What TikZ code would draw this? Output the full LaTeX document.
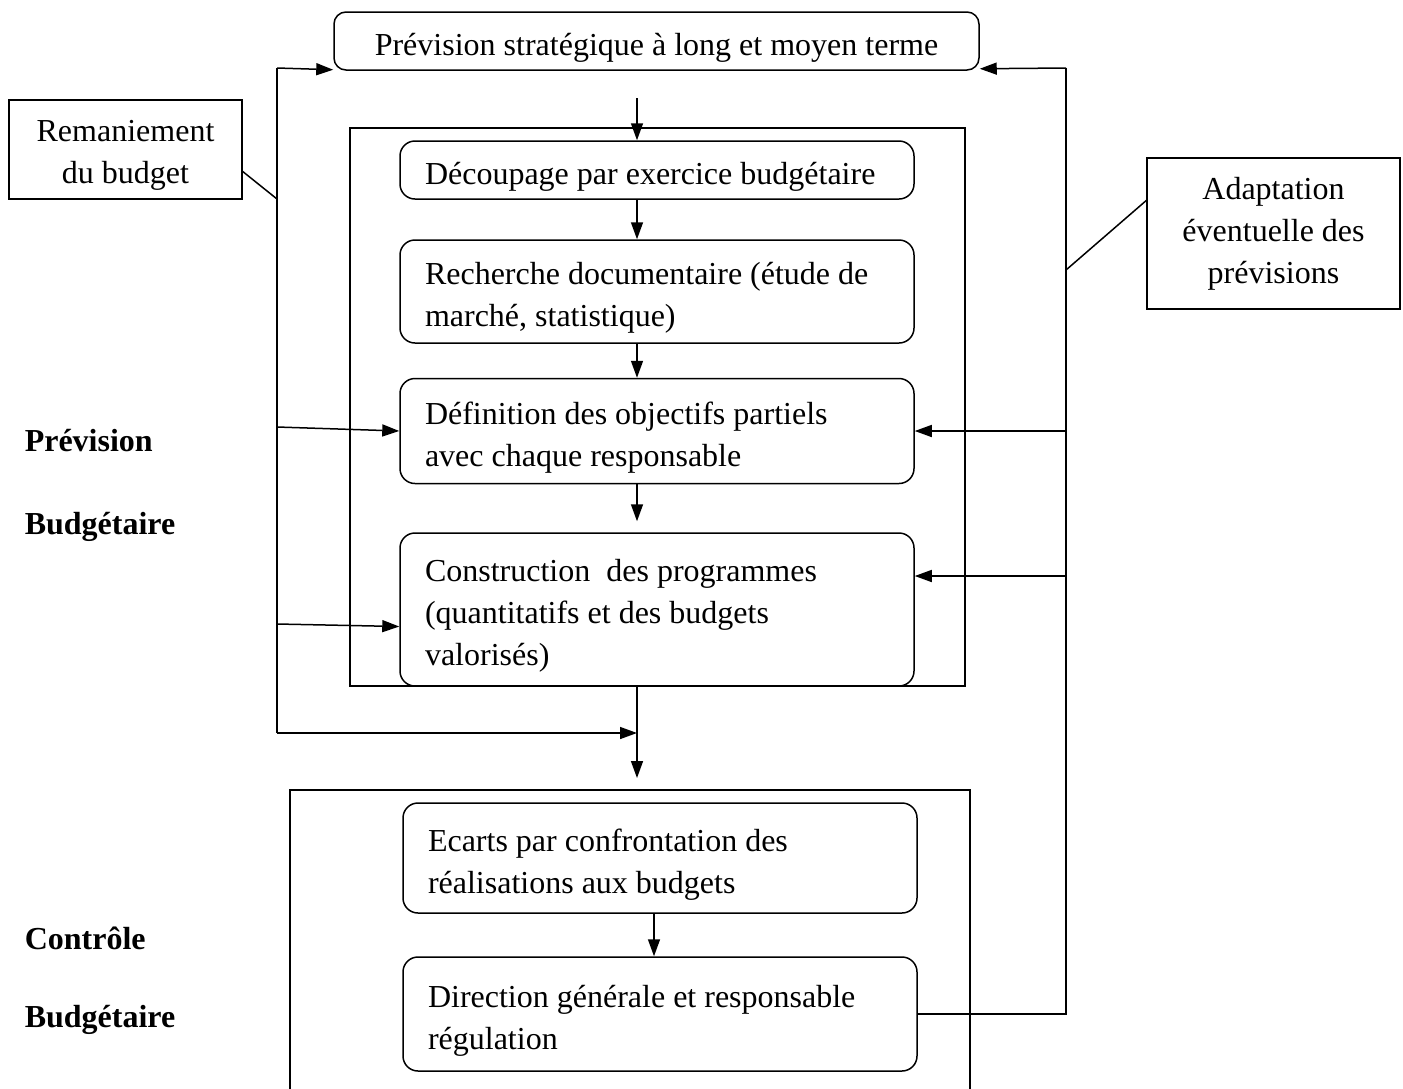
\documentclass[tikz,border=0pt]{standalone}
\usepackage{fontspec}
\setmainfont{Liberation Serif}
\usetikzlibrary{arrows.meta}

\begin{document}
\begin{tikzpicture}[x=1pt, y=-1pt, line width=1.5pt,
  font=\fontsize{32}{42}\selectfont,
  >={Triangle[length=17pt,width=12pt]},
  etape/.style={draw, rounded corners=15pt, text width=464pt, inner xsep=25pt, inner ysep=0pt, align=flush left,
    execute at begin node={\rule{0pt}{35pt}}},
  cadre/.style={draw, inner sep=0pt, align=center},
  titre/.style={font=\fontsize{32}{42}\selectfont\bfseries, anchor=west, inner sep=0pt}]
  \useasboundingbox (0,0) rectangle (1403,1088);

  % the two frames
  \draw (350,128) rectangle (965,686);
  \draw (290,790) rectangle (970,1100);

  % boxes
  \node[draw, rounded corners=12pt, minimum width=645pt, minimum height=58pt, text height=36pt, text depth=7pt, inner ysep=0pt] (prevstrat) at (656.5,41) {Prévision stratégique à long et moyen terme};
  \node[cadre, text width=233pt, align=flush center, minimum height=99pt, execute at begin node={\rule{0pt}{33pt}}] (remanie) at (125.5,149.5) {Remaniement\\du budget};
  \node[cadre, minimum width=253pt, minimum height=151pt] (adapt) at (1273.5,233.5) {Adaptation\\éventuelle des\\prévisions};

  \node[etape, minimum height=58pt] (decoup) at (657,170) {Découpage par exercice budgétaire};
  \node[etape, minimum height=103pt] (recherche) at (657,291.5) {Recherche documentaire (étude de\\marché, statistique)};
  \node[etape, minimum height=105pt] (objectifs) at (657,431) {Définition des objectifs partiels\\avec chaque responsable};
  \node[etape, minimum height=153pt] (programmes) at (657,609.5) {Construction\ \ des programmes\\(quantitatifs et des budgets\\valorisés)};
  \node[etape, minimum height=110pt] (ecarts) at (660,858) {Ecarts par confrontation des\\réalisations aux budgets};
  \node[etape, minimum height=114pt] (regulation) at (660,1014) {Direction générale et responsable\\régulation};

  % side titles
  \node[titre] (tprev) at (24,441) {Prévision};
  \node[titre] (tbud1) at (24,527) {Budgétaire};
  \node[titre] (tctrl) at (24,938) {Contrôle};
  \node[titre] (tbud2) at (24,1020) {Budgétaire};

  % connector points
  \coordinate (a0) at (637,98);
  \coordinate (a1) at (637,778);
  \coordinate (L1) at (277,68);
  \coordinate (L2) at (277,733);
  \coordinate (R1) at (1066,68);

  % main flow
  \draw[->] (a0) -- (decoup.north -| a0);
  \draw[->] (decoup.south -| a0) -- (recherche.north -| a0);
  \draw[->] (recherche.south -| a0) -- (objectifs.north -| a0);
  \draw[->] (objectifs.south -| a0) -- ([yshift=11pt]programmes.north -| a0);
  \draw[->] (programmes.south -| a0) -- (a1);
  \draw[->] ([xshift=-6pt]ecarts.south) -- ([xshift=-6pt]regulation.north);

  % left loop
  \draw (L2) -- (L1);
  \draw[->] (L1) -- ([yshift=1pt]prevstrat.south west);
  \draw[->] (277,427) -- (objectifs.west);
  \draw[->] (277,624) -- ([yshift=-17pt]programmes.west);
  \draw[->] (L2) -- (a0 |- L2);
  \draw ([yshift=-22pt]remanie.east) -- (277,199);

  % right loop
  \draw (regulation.east) -- (R1 |- regulation.east) -- (R1);
  \draw[->] (R1) -- ([yshift=2pt]prevstrat.south east);
  \draw[->] (R1 |- objectifs.east) -- (objectifs.east);
  \draw[->] (1066,576) -- ([yshift=33.5pt]programmes.east);
  \draw ([yshift=33pt]adapt.west) -- (1066,270);
\end{tikzpicture}
\end{document}
